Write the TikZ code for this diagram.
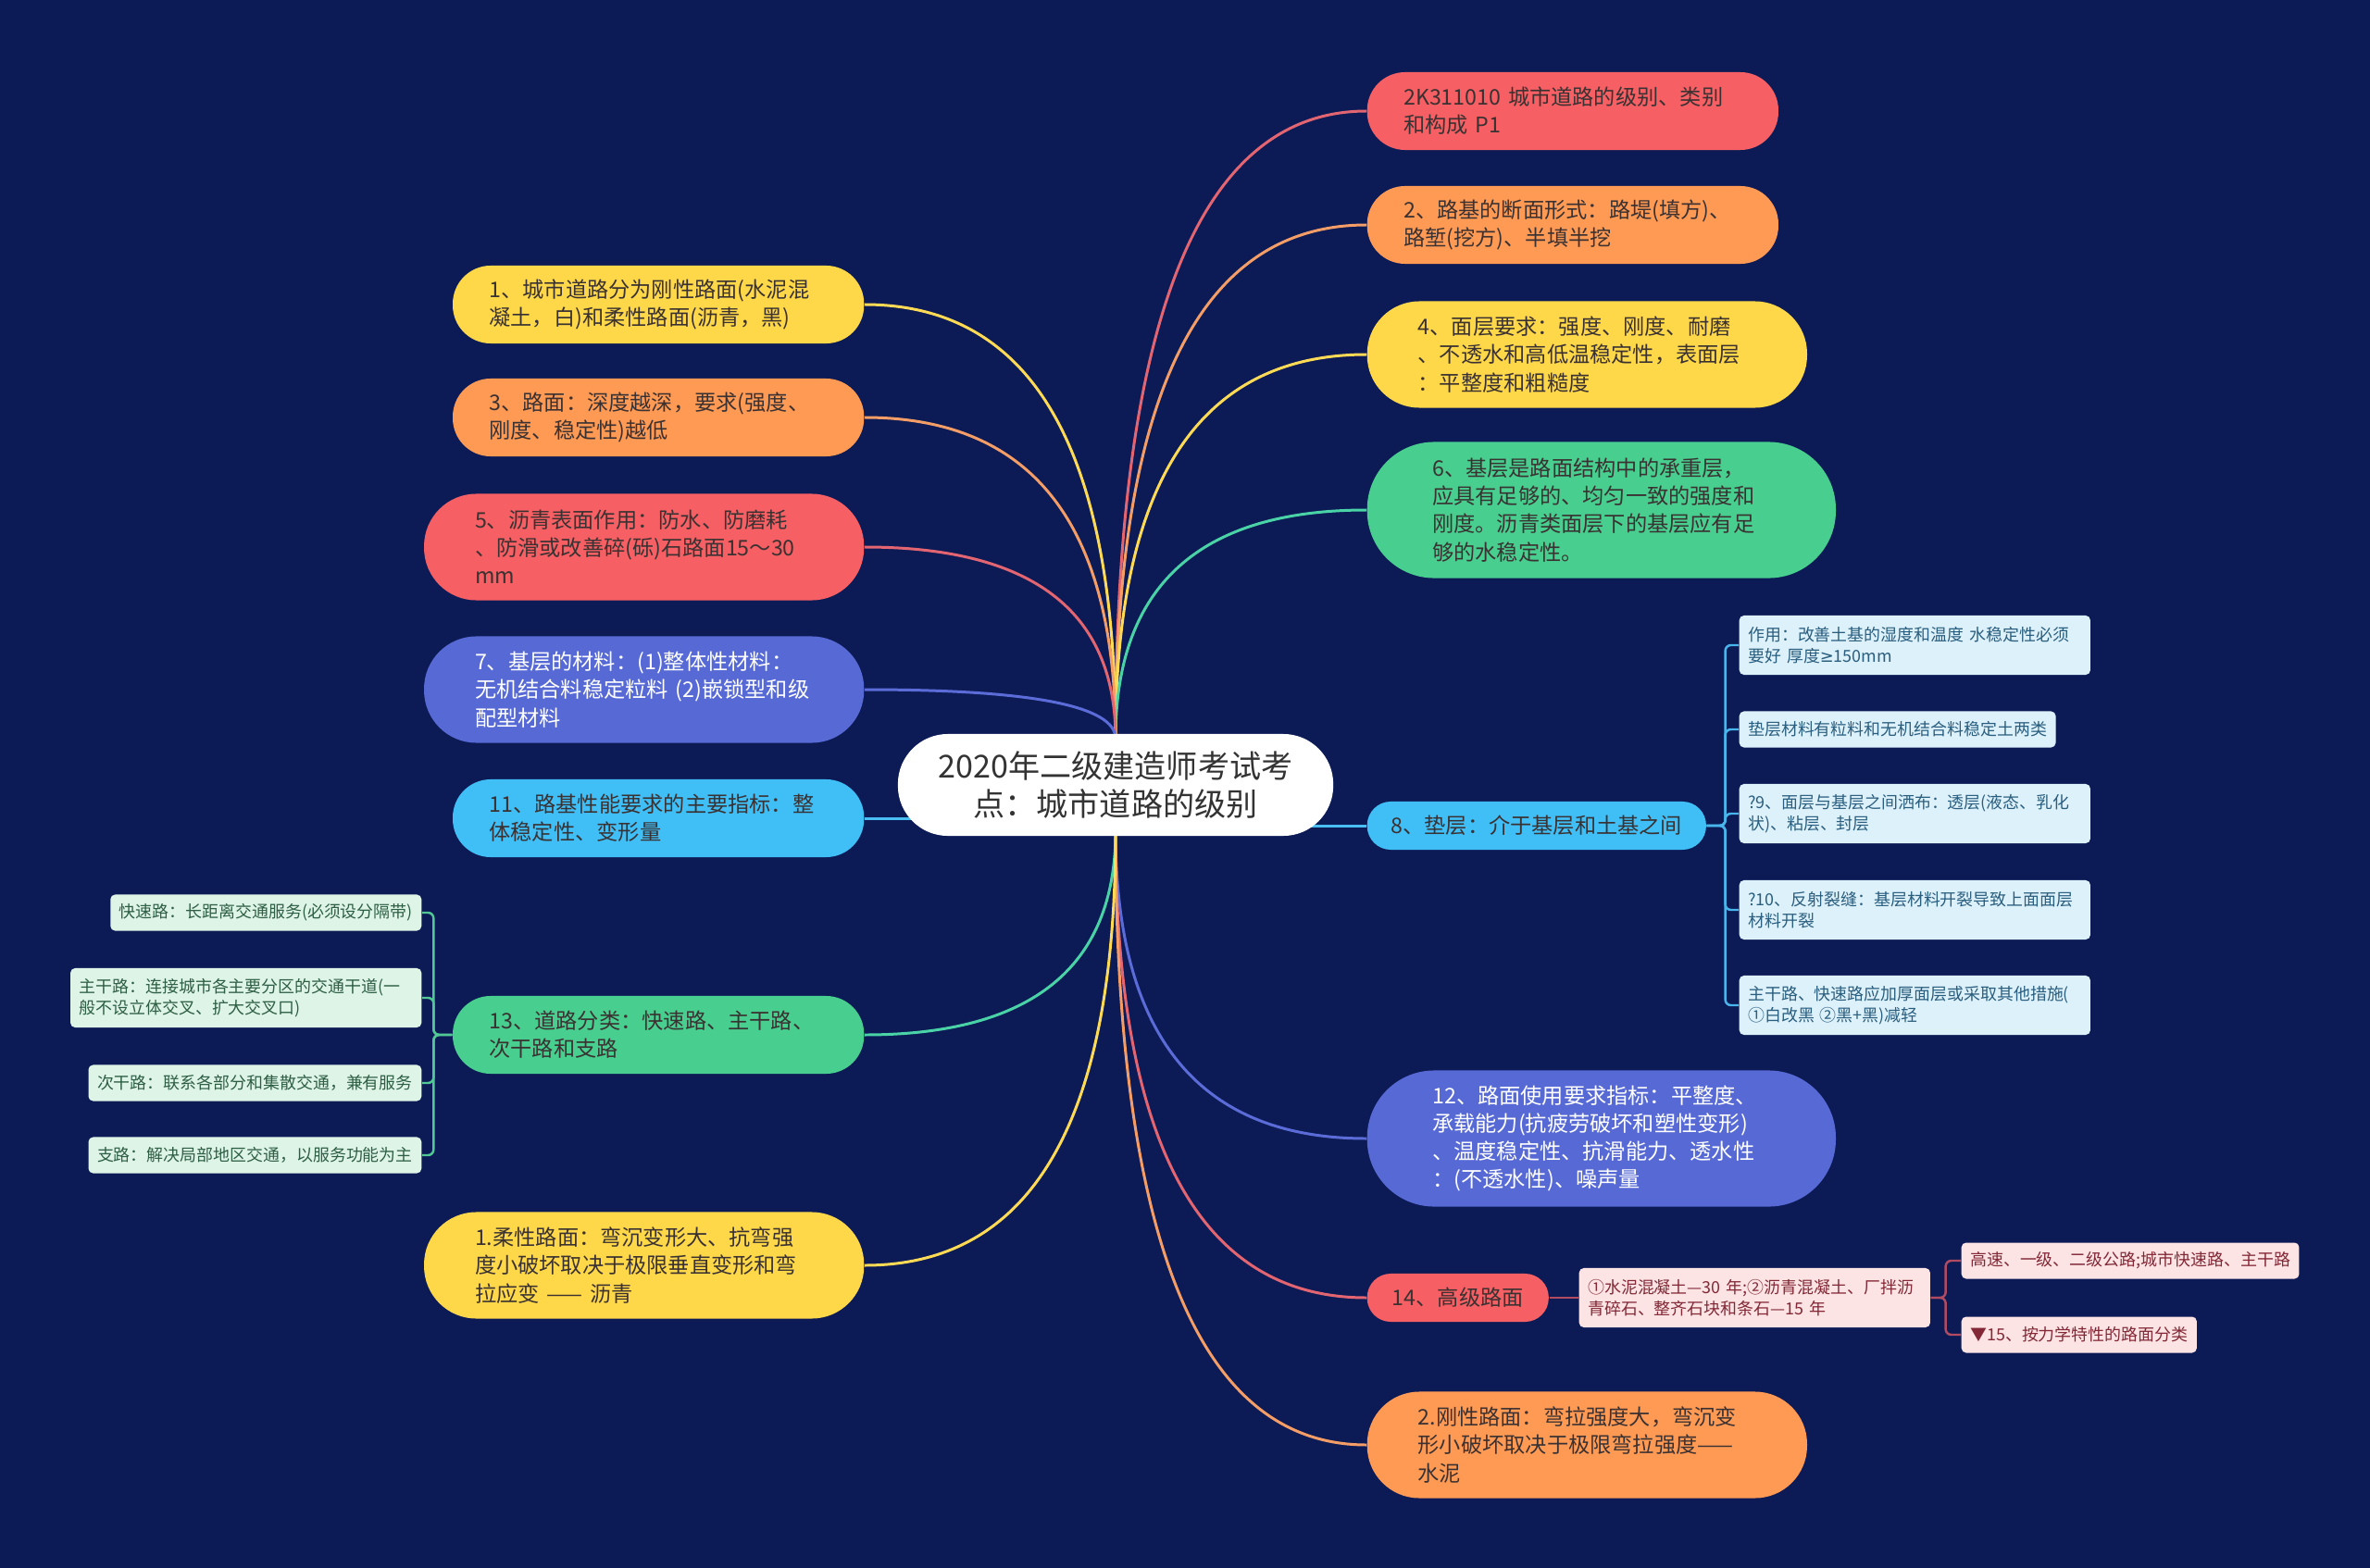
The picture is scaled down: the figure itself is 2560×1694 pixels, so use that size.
\documentclass[tikz,border=0pt]{standalone}
\usepackage{fontspec}
\setmainfont{Noto Sans CJK SC}
\newfontfamily\symfont{DejaVu Sans}
\usetikzlibrary{calc}
\tikzset{>=stealth}

\definecolor{navy}{HTML}{0C1B55}
\definecolor{pred}{HTML}{F65F63}
\definecolor{porange}{HTML}{FF9A55}
\definecolor{pyellow}{HTML}{FFD84A}
\definecolor{pgreen}{HTML}{48CE8E}
\definecolor{psky}{HTML}{40BFF7}
\definecolor{pindigo}{HTML}{5669D5}
\definecolor{ink}{HTML}{3A3232}
\definecolor{rootink}{HTML}{333333}
\definecolor{lred}{HTML}{E46572}
\definecolor{lorange}{HTML}{F59D66}
\definecolor{lyellow}{HTML}{FFDB55}
\definecolor{lgreen}{HTML}{4AD3A6}
\definecolor{lsky}{HTML}{48BEF2}
\definecolor{lindigo}{HTML}{5B6CD9}
\definecolor{bleafbg}{HTML}{DDF1FB}
\definecolor{bleaftx}{HTML}{2A5E7E}
\definecolor{gleafbg}{HTML}{DDF4E7}
\definecolor{gleaftx}{HTML}{2E5E44}
\definecolor{pleafbg}{HTML}{FDE4E4}
\definecolor{pleaftx}{HTML}{822837}
\definecolor{blink}{HTML}{48B5EC}
\definecolor{glink}{HTML}{52C795}
\definecolor{plink}{HTML}{B04B62}

\pgfdeclarelayer{bg}
\pgfdeclarelayer{links}
\pgfsetlayers{bg,links,main}

\newcommand\rootfs{\fontsize{9.7pt}{11.6pt}\selectfont}
\newcommand\mainfs{\fontsize{6.6pt}{8.6pt}\selectfont}
\newcommand\leaffs{\fontsize{5.1pt}{6.4pt}\selectfont}

% curved branch from the root to a topic
\newcommand\branch[3]{%
  \draw[link, #3] let \p1=(#1), \p2=(#2) in
    (\p1) .. controls (\x1,{\y1+0.667*(\y2-\y1)}) and ({\x2-0.667*(\x2-\x1)},\y2) .. (\p2);}

\begin{document}
\begin{tikzpicture}[
    x=0.01cm, y=-0.01cm,
    font=\mainfs,
    root/.style={fill=white, text=rootink, font=\rootfs, align=center,
                 inner sep=0pt, minimum width=4.7cm, minimum height=1.1cm,
                 rounded corners=0.54cm},
    pill/.style={inner sep=0pt, text=ink, align=left, text width=3.65cm},
    two/.style={pill, minimum width=4.44cm, minimum height=0.84cm, rounded corners=0.41cm},
    three/.style={pill, minimum width=4.75cm, minimum height=1.15cm, rounded corners=0.565cm},
    four/.style={pill, minimum width=5.06cm, minimum height=1.47cm, rounded corners=0.725cm},
    one/.style={inner sep=0pt, text=ink, minimum height=0.52cm, rounded corners=0.255cm},
    leaf/.style={font=\leaffs, rounded corners=0.05cm, inner xsep=0.095cm,
                 inner ysep=0pt, align=left},
    leaftwo/.style={leaf, text width=3.6cm, minimum height=0.64cm},
    leafone/.style={leaf, minimum height=0.39cm},
    bleaf/.style={fill=bleafbg, text=bleaftx},
    gleaf/.style={fill=gleafbg, text=gleaftx},
    pleaf/.style={fill=pleafbg, text=pleaftx},
    link/.style={line width=0.85pt},
    sublink/.style={line width=0.7pt, rounded corners=0.06cm},
  ]
  \useasboundingbox (0,0) rectangle (2560,1694);
  \begin{pgfonlayer}{bg}
    \fill[navy] (0,0) rectangle (2560,1694);
  \end{pgfonlayer}

  \node[root] (root) at (1205,848) {2020年二级建造师考试考\\点：城市道路的级别};

  % right topics
  \node[two, fill=pred, anchor=west] (r1) at (1476,120) {2K311010 城市道路的级别、类别\\和构成 P1};
  \node[two, fill=porange, anchor=west] (r2) at (1476,243) {2、路基的断面形式：路堤(填方)、\\路堑(挖方)、半填半挖};
  \node[three, fill=pyellow, anchor=west] (r3) at (1476,383) {4、面层要求：强度、刚度、耐磨\\、不透水和高低温稳定性，表面层\\：平整度和粗糙度};
  \node[four, fill=pgreen, anchor=west] (r4) at (1476,551) {6、基层是路面结构中的承重层，\\应具有足够的、均匀一致的强度和\\刚度。沥青类面层下的基层应有足\\够的水稳定性。};
  \node[one, fill=psky, minimum width=3.66cm, anchor=west] (r5) at (1476,892) {8、垫层：介于基层和土基之间};
  \node[four, fill=pindigo, text=white, anchor=west] (r6) at (1476,1230) {12、路面使用要求指标：平整度、\\承载能力(抗疲劳破坏和塑性变形)\\、温度稳定性、抗滑能力、透水性\\：(不透水性)、噪声量};
  \node[one, fill=pred, minimum width=1.96cm, anchor=west] (r7) at (1476,1402) {14、高级路面};
  \node[three, fill=porange, anchor=west] (r8) at (1476,1561) {2.刚性路面：弯拉强度大，弯沉变\\形小破坏取决于极限弯拉强度——\\水泥};

  % left topics
  \node[two, fill=pyellow, anchor=east] (l1) at (934,329) {1、城市道路分为刚性路面(水泥混\\凝土，白)和柔性路面(沥青，黑)};
  \node[two, fill=porange, anchor=east] (l2) at (934,451) {3、路面：深度越深，要求(强度、\\刚度、稳定性)越低};
  \node[three, fill=pred, anchor=east] (l3) at (934,591) {5、沥青表面作用：防水、防磨耗\\、防滑或改善碎(砾)石路面15～30\\mm};
  \node[three, fill=pindigo, text=white, anchor=east] (l4) at (934,745) {7、基层的材料：(1)整体性材料：\\无机结合料稳定粒料 (2)嵌锁型和级\\配型材料};
  \node[two, fill=psky, anchor=east] (l5) at (934,884) {11、路基性能要求的主要指标：整\\体稳定性、变形量};
  \node[two, fill=pgreen, anchor=east] (l6) at (934,1118) {13、道路分类：快速路、主干路、\\次干路和支路};
  \node[three, fill=pyellow, anchor=east] (l7) at (934,1367) {1.柔性路面：弯沉变形大、抗弯强\\度小破坏取决于极限垂直变形和弯\\拉应变 —— 沥青};

  % leaves of 8
  \node[leaftwo, bleaf, anchor=west] (sa) at (1878,697) {作用：改善土基的湿度和温度 水稳定性必须\\要好 厚度{\symfont ≥}150mm};
  \node[leafone, bleaf, anchor=west] (sb) at (1878,788) {垫层材料有粒料和无机结合料稳定土两类};
  \node[leaftwo, bleaf, anchor=west] (sc) at (1878,879) {?9、面层与基层之间洒布：透层(液态、乳化\\状)、粘层、封层};
  \node[leaftwo, bleaf, anchor=west] (sd) at (1878,983) {?10、反射裂缝：基层材料开裂导致上面面层\\材料开裂};
  \node[leaftwo, bleaf, anchor=west] (se) at (1878,1086) {主干路、快速路应加厚面层或采取其他措施(\\①白改黑 ②黑+黑)减轻};

  % leaves of 13
  \node[leafone, gleaf, anchor=east] (ga) at (456,986) {快速路：长距离交通服务(必须设分隔带)};
  \node[leaftwo, gleaf, anchor=east] (gb) at (456,1078) {主干路：连接城市各主要分区的交通干道(一\\般不设立体交叉、扩大交叉口)};
  \node[leafone, gleaf, anchor=east] (gc) at (456,1170) {次干路：联系各部分和集散交通，兼有服务};
  \node[leafone, gleaf, anchor=east] (gd) at (456,1248) {支路：解决局部地区交通，以服务功能为主};

  % leaves of 14
  \node[leaftwo, pleaf, anchor=west] (pa) at (1705,1402) {①水泥混凝土—30 年;②沥青混凝土、厂拌沥\\青碎石、整齐石块和条石—15 年};
  \node[leafone, pleaf, anchor=west] (pb) at (2118,1362) {高速、一级、二级公路;城市快速路、主干路};
  \node[leafone, pleaf, anchor=west] (pc) at (2118,1442) {▼15、按力学特性的路面分类};

  \begin{pgfonlayer}{links}
    \coordinate (ctop) at (1205,798);
    \coordinate (cbot) at (1205,898);
    \branch{ctop}{r1.west}{lred}
    \branch{ctop}{r2.west}{lorange}
    \branch{ctop}{r3.west}{lyellow}
    \branch{ctop}{r4.west}{lgreen}
    \branch{cbot}{r6.west}{lindigo}
    \branch{cbot}{r7.west}{lred}
    \branch{cbot}{r8.west}{lorange}
    \branch{ctop}{l1.east}{lyellow}
    \branch{ctop}{l2.east}{lorange}
    \branch{ctop}{l3.east}{lred}
    \branch{ctop}{l4.east}{lindigo}
    \branch{cbot}{l6.east}{lgreen}
    \branch{cbot}{l7.east}{lyellow}
    \draw[link, lsky] (r5.west) -- (r5.west -| root.center);
    \draw[link, lsky] (l5.east) -- (l5.east -| root.center);
    \foreach \n in {sa,sb,sc,sd,se}
      \draw[sublink, blink] (r5.east) -- ++(20,0) |- (\n.west);
    \foreach \n in {ga,gb,gc,gd}
      \draw[sublink, glink] (l6.west) -- ++(-20,0) |- (\n.east);
    \draw[sublink, plink] (r7.east) -- (pa.west);
    \foreach \n in {pb,pc}
      \draw[sublink, plink] (pa.east) -- ++(16,0) |- (\n.west);
  \end{pgfonlayer}
\end{tikzpicture}
\end{document}
